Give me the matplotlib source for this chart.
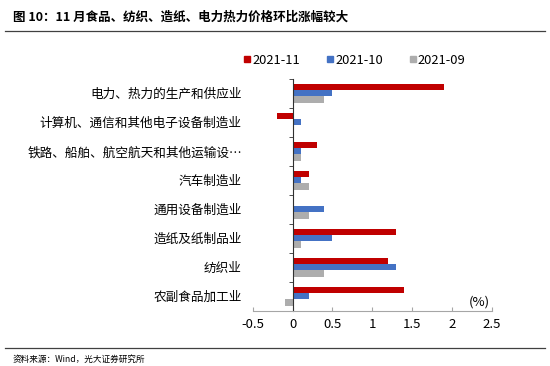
import matplotlib.pyplot as plt
from matplotlib.lines import Line2D
from matplotlib.ticker import FixedLocator
import numpy as np

plt.rcParams['font.family'] = ['Noto Sans CJK SC', 'DejaVu Sans']

# categories listed bottom to top
categories = ['农副食品加工业', '纺织业', '造纸及纸制品业', '通用设备制造业',
              '汽车制造业', '铁路、船舶、航空航天和其他运输设…',
              '计算机、通信和其他电子设备制造业', '电力、热力的生产和供应业']
v_2021_11 = [1.4, 1.2, 1.3, 0.0, 0.2, 0.3, -0.2, 1.9]
v_2021_10 = [0.2, 1.3, 0.5, 0.4, 0.1, 0.1, 0.1, 0.5]
v_2021_09 = [-0.1, 0.4, 0.1, 0.2, 0.2, 0.1, 0.0, 0.4]
series_names = ['2021-11', '2021-10', '2021-09']
colors = ['#C00000', '#4472C4', '#ADADAD']

fig = plt.figure(figsize=(5.5, 3.66), dpi=100)
ax = fig.add_axes([252.7 / 550, 1 - 310.7 / 366, 239.3 / 550, 232 / 366])

y = np.arange(len(categories))
h = 0.215
for i, (vals, name, c) in enumerate(zip([v_2021_11, v_2021_10, v_2021_09], series_names, colors)):
    ax.barh(y + h * (1 - i), vals, height=h, color=c, label=name)

ax.set_xlim(-0.5, 2.5)
ax.set_ylim(-0.5, len(categories) - 0.5)
ax.set_xticks([-0.5, 0, 0.5, 1, 1.5, 2, 2.5])
ax.set_xticklabels(['-0.5', '0', '0.5', '1', '1.5', '2', '2.5'], fontsize=9.5)

ax.spines['top'].set_visible(False)
ax.spines['right'].set_visible(False)
ax.spines['left'].set_position(('data', 0))
ax.spines['left'].set_color('#303030')
ax.spines['bottom'].set_color('#A6A6A6')
ax.tick_params(axis='x', direction='in', length=3, color='#A6A6A6', pad=5)

# labels sit at the low end of the axis, left of -0.5
ax.set_yticks(y)
ax.set_yticklabels(categories, fontsize=9.1)
ax.tick_params(axis='y', which='major', length=0, pad=36.5)
ax.yaxis.set_minor_locator(FixedLocator(np.arange(-0.5, len(categories), 1.0)))
ax.tick_params(axis='y', which='minor', length=3, color='#303030')

ax.text(2.34, -0.2, '(%)', fontsize=9.5, ha='center', va='center')

handles = [Line2D([], [], marker='s', linestyle='', color=c, markersize=4.5) for c in colors]
fig.legend(handles, series_names, loc='center', bbox_to_anchor=(354.5 / 550, 1 - 60.5 / 366),
           ncol=3, frameon=False, fontsize=9.3, handletextpad=0.1, columnspacing=2.0,
           handlelength=0.6)

fig.text(13 / 550, 1 - 17.5 / 366, '图 10：11 月食品、纺织、造纸、电力热力价格环比涨幅较大',
         fontsize=9, fontweight='bold', va='center')
fig.add_artist(Line2D([5 / 550, 545 / 550], [1 - 30.7 / 366] * 2, color='#404040', lw=0.9))
fig.add_artist(Line2D([5 / 550, 545 / 550], [1 - 348.3 / 366] * 2, color='#404040', lw=0.9))
fig.text(12.7 / 550, 1 - 359 / 366, '资料来源：Wind，光大证券研究所', fontsize=6.2, va='center')

fig.savefig('out.png', dpi=100)
